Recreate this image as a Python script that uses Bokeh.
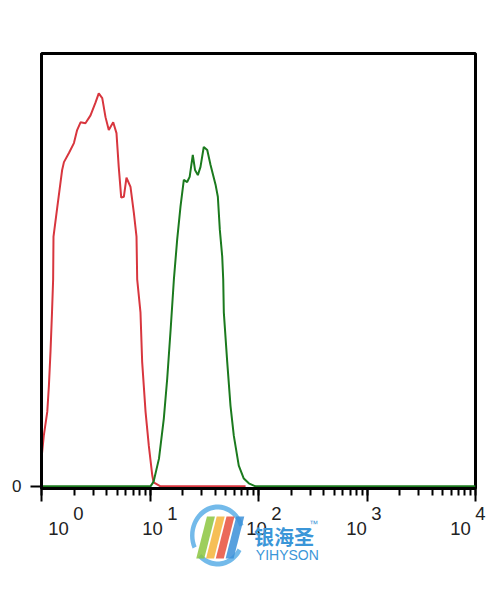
import math
from bokeh.plotting import figure
from bokeh.layouts import column
from bokeh.models import Range1d, FixedTicker, LinearAxis, LinearScale
from bokeh.core.properties import value
from bokeh.embed import file_html
from bokeh.resources import INLINE

# ---- data ----
red_x = [1.00, 1.05, 1.13, 1.17, 1.21, 1.25, 1.28, 1.29, 1.40, 1.55, 1.61, 1.79, 1.99,
         2.13, 2.29, 2.54, 2.83, 3.15, 3.37, 3.63, 3.89, 4.17, 4.58, 4.91, 5.15, 5.43,
         5.74, 6.07, 6.61, 7.10, 7.51, 7.62, 8.17, 8.47, 9.10, 9.75, 10.5, 10.8, 12.5, 76.0]
red_y = [6.4, 11.7, 17.2, 23.2, 31.0, 40.2, 47.8, 57.7, 64.6, 73.1, 74.9, 77.0, 79.3,
         82.3, 84.1, 83.9, 85.7, 88.7, 90.8, 89.7, 85.3, 82.3, 84.1, 81.6, 73.8, 66.7,
         66.9, 71.3, 69.2, 63.2, 57.7, 47.8, 40.2, 28.7, 17.2, 9.4, 2.5, 0.9, 0.0, 0.0]

green_x = [1.00, 10.1, 10.8, 12.1, 13.4, 14.4, 15.5, 16.6, 17.8, 19.1, 20.5, 22.0, 23.2,
           24.8, 26.0, 27.6, 29.2, 31.3, 33.7, 36.1, 40.2, 42.2, 44.0, 46.3, 47.3, 47.9,
           51.5, 55.2, 59.2, 65.8, 73.2, 81.4, 93.8, 10000.0]
green_y = [0.0, 0.0, 1.1, 6.4, 15.6, 24.8, 36.3, 47.8, 57.0, 64.6, 70.8, 70.3, 71.5,
           76.6, 73.1, 71.9, 73.8, 78.4, 77.7, 74.3, 69.7, 66.9, 59.3, 53.1, 47.8, 40.2,
           28.7, 18.6, 11.7, 4.8, 1.8, 0.7, 0.0, 0.0]

decade_ticks = [1, 10, 100, 1000, 10000]
base_labels = ["10", "10", "10", "10", "10"]
exp_labels = ["0", "1", "2", "3", "4"]

# ---- styling / layout ----
W, H = 488, 590
FL, FT, FW, FH = 41, 53, 434, 435   # frame in canvas px
Y_START, Y_END = -0.5, 100.0
label_centers = [58, 152, 256, 356, 460]   # px centres of the "10^n" labels (styling)

p = figure(width=W, height=H, output_backend="svg", toolbar_location=None,
           x_axis_type="log", x_range=Range1d(1, 10000), y_range=Range1d(Y_START, Y_END),
           min_border_left=FL, min_border_right=W - FL - FW,
           min_border_top=FT, min_border_bottom=H - FT - FH)
p.grid.visible = False
p.outline_line_color = "black"
p.outline_line_width = 3
p.background_fill_color = "white"
p.border_fill_color = "white"

p.line(red_x, red_y, line_color="#d8363e", line_width=2)
p.line(green_x, green_y, line_color="#1b7a1e", line_width=2)

xa = p.xaxis[0]
xa.axis_line_width = 3
xa.axis_line_color = "black"
xa.major_tick_out = 13
xa.major_tick_in = 0
xa.minor_tick_out = 7
xa.minor_tick_in = 0
xa.major_tick_line_width = 2
xa.minor_tick_line_width = 2
xa.major_tick_line_color = "black"
xa.minor_tick_line_color = "black"
xa.major_label_overrides = {t: " " for t in decade_ticks}
xa.major_label_text_font_size = "1px"
xa.major_label_standoff = 0

# second (label-only) bottom axis carrying the "10^n" labels
p.extra_x_ranges = {"lab": Range1d(FL, FL + FW)}
p.extra_x_scales = {"lab": LinearScale()}
NB = "\u00a0" * 7 + "\u2009"
lab_axis = LinearAxis(x_range_name="lab", ticker=FixedTicker(ticks=label_centers, minor_ticks=[]),
                      axis_line_color=None, major_tick_line_color=None,
                      minor_tick_line_color=None, major_tick_out=0, major_tick_in=0,
                      major_label_standoff=-3)
lab_axis.major_label_overrides = {c: NB + e + "\n" + b
                                  for c, b, e in zip(label_centers, base_labels, exp_labels)}
lab_axis.major_label_text_font = "Liberation Sans"
lab_axis.major_label_text_font_size = "18.5px"
lab_axis.major_label_text_line_height = 0.72
lab_axis.major_label_text_color = "#222222"
p.add_layout(lab_axis, "below")

ya = p.yaxis[0]
ya.ticker = FixedTicker(ticks=[0], minor_ticks=[])
ya.axis_line_width = 3
ya.axis_line_color = "black"
ya.major_tick_out = 11
ya.major_tick_in = 0
ya.major_tick_line_width = 2
ya.major_label_standoff = 9
ya.major_label_text_font = "Liberation Sans"
ya.major_label_text_font_size = "17px"
ya.major_label_text_color = "#222222"

# ---- watermark overlay (transparent figure laid over the bottom strip) ----
WH = 90
top = H - WH
q = figure(width=W, height=WH, output_backend="svg", toolbar_location=None,
           x_range=Range1d(0, W), y_range=Range1d(H, top),
           x_axis_location=None, y_axis_location=None,
           min_border=0, min_border_left=0, min_border_right=0,
           min_border_top=0, min_border_bottom=0, margin=(-WH, 0, 0, 0))
q.grid.visible = False
q.outline_line_color = None
q.background_fill_alpha = 0
q.border_fill_alpha = 0

cx, cy = 198, 535
def ring(a0, a1, r0, r1, n=30):
    xs, ys = [], []
    for i in range(n + 1):
        a = math.radians(a0 + (a1 - a0) * i / n)
        xs.append(cx + r1 * math.cos(a)); ys.append(cy - r1 * math.sin(a))
    for i in range(n, -1, -1):
        a = math.radians(a0 + (a1 - a0) * i / n)
        xs.append(cx + r0 * math.cos(a)); ys.append(cy - r0 * math.sin(a))
    return xs, ys

rxs, rys = [], []
for a0, a1 in [(20, 205), (225, 330)]:
    xs, ys = ring(a0, a1, 26, 31)
    rxs.append(xs); rys.append(ys)
q.patches(rxs, rys, fill_color="#5aaee6", fill_alpha=0.85, line_color=None)

ribbon_cols = ["#8cc63f", "#f4b43a", "#e8503c", "#3b8fd8"]
bxs, bys = [], []
for k in range(4):
    bx = 174 + 11 * k
    bxs.append([bx, bx + 9, bx + 21, bx + 12]); bys.append([558, 558, 516, 516])
q.patches(bxs, bys, fill_color=ribbon_cols, fill_alpha=0.85, line_color=None)

q.text(x=[239], y=[536], text=["银海圣"], text_font=value("Noto Sans CJK SC"),
       text_font_size="20px", text_font_style="bold", text_color="#3b96d8",
       text_baseline="alphabetic", text_align="left")
q.text(x=[301], y=[523], text=["™"], text_font=value("Liberation Sans"),
       text_font_size="9px", text_color="#3b96d8", text_baseline="alphabetic")
q.text(x=[241], y=[554], text=["YIHYSON"], text_font=value("Liberation Sans"),
       text_font_size="14px", text_color="#3b96d8", text_baseline="alphabetic")

layout = column(p, q, spacing=0)
open("out.html", "w").write(file_html(layout, INLINE))
